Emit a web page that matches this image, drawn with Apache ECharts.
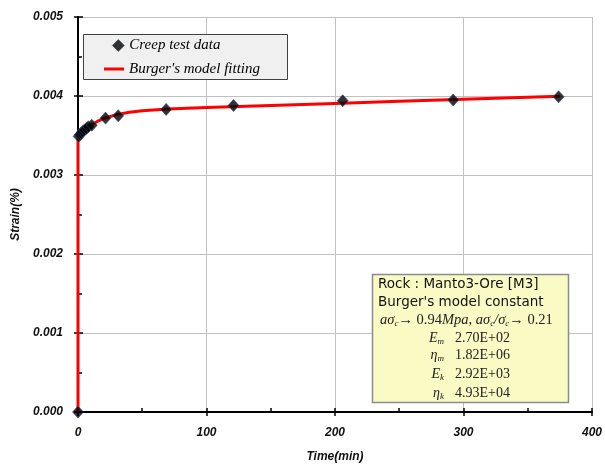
<!DOCTYPE html>
<html>
<head>
<meta charset="utf-8">
<script src="https://cdn.jsdelivr.net/npm/echarts@6/dist/echarts.min.js"></script>
<style>html,body{margin:0;padding:0;background:#fff}#c{width:605px;height:473px}</style>
</head>
<body>
<div id="c"></div>
<script>
// Creep test data (time in min, strain in %)
const testTime = [0, 0.5, 1.5, 2.5, 3.5, 5, 6.5, 8, 10.7, 21.4, 31.3, 68.6, 121, 206, 292, 374];
const testStrain = [0, 0.00349, 0.00351, 0.00353, 0.00355, 0.00357, 0.00359, 0.00361, 0.00363, 0.00372, 0.00375, 0.00383, 0.00388, 0.00394, 0.00395, 0.00399];
// Burger's model fitting curve
const fitTime = [0, 0, 1, 2, 4, 6, 8, 10, 15, 20, 30, 40, 50, 70, 100, 150, 200, 250, 300, 350, 375];
const fitStrain = [0, 0.003481, 0.0035, 0.003518, 0.003551, 0.00358, 0.003607, 0.00363, 0.003678, 0.003715, 0.003764, 0.003794, 0.003812, 0.003834, 0.003854, 0.003881, 0.003906, 0.003932, 0.003958, 0.003984, 0.003997];
const xTicks = [0, 100, 200, 300, 400];
const yTicks = ['0.000', '0.001', '0.002', '0.003', '0.004', '0.005'];
const seriesNames = ['Creep test data', "Burger's model fitting"];
const infoRows = [
  ['E', 'm', '2.70E+02'],
  ['\u03b7', 'm', '1.82E+06'],
  ['E', 'k', '2.92E+03'],
  ['\u03b7', 'k', '4.93E+04']
];

const chart = echarts.init(document.getElementById('c'));
const axisFont = {fontFamily: 'Liberation Sans', fontStyle: 'italic', fontWeight: 'bold', fontSize: 12, color: '#111'};
const gridColor = '#c0c0c0';

const xMain = {
  type: 'value', min: xTicks[0], max: xTicks[xTicks.length - 1], interval: 100,
  name: 'Time(min)', nameLocation: 'middle', nameGap: 39,
  nameTextStyle: Object.assign({}, axisFont, {fontSize: 12}),
  axisLine: {show: true, onZero: false, lineStyle: {color: '#000', width: 2}},
  axisTick: {show: true, inside: false, length: 4, lineStyle: {color: '#000', width: 1.5}},
  axisLabel: Object.assign({}, axisFont, {margin: 15}),
  splitLine: {show: true, lineStyle: {color: gridColor, width: 1}},
  minorTick: {show: false}
};
const xInner = {
  type: 'value', min: xTicks[0], max: xTicks[xTicks.length - 1], interval: 100, position: 'bottom',
  axisLine: {show: false},
  axisTick: {show: true, inside: true, length: 4, lineStyle: {color: '#000', width: 1.5}},
  minorTick: {show: true, splitNumber: 2, length: 4, lineStyle: {color: '#000', width: 1.5}},
  axisLabel: {show: false}, splitLine: {show: false}
};
const yMain = {
  type: 'value', min: 0, max: 0.005, interval: 0.001,
  name: 'Strain(%)', nameLocation: 'middle', nameGap: 56,
  nameTextStyle: Object.assign({}, axisFont, {fontSize: 12}),
  axisLine: {show: true, onZero: false, lineStyle: {color: '#000', width: 2}},
  axisTick: {show: true, inside: false, length: 4, lineStyle: {color: '#000', width: 1.5}},
  axisLabel: Object.assign({}, axisFont, {margin: 15, formatter: (v) => yTicks[Math.round(v / 0.001)]}),
  splitLine: {show: true, lineStyle: {color: gridColor, width: 1}},
  minorTick: {show: false}
};
const yInner = {
  type: 'value', min: 0, max: 0.005, interval: 0.001, position: 'left',
  axisLine: {show: false},
  axisTick: {show: true, inside: true, length: 5, lineStyle: {color: '#000', width: 1.5}},
  minorTick: {show: true, splitNumber: 2, length: 4, lineStyle: {color: '#000', width: 1.5}},
  axisLabel: {show: false}, splitLine: {show: false}
};

const legendText = {fontFamily: 'Liberation Serif', fontStyle: 'italic', fontSize: 15, color: '#000'};
const boxFont = '13.5px "DejaVu Sans"';

const graphics = [
  {type: 'rect', z: 3, shape: {x: 83.5, y: 34.5, width: 204, height: 45}, style: {fill: '#f0f0f0', stroke: '#404040', lineWidth: 1}},
  {type: 'rect', z: 3, shape: {x: 372.5, y: 274.5, width: 196, height: 128}, style: {fill: '#fafac4', stroke: '#8c8c8c', lineWidth: 1.5}},
  {type: 'text', z: 4, x: 378, y: 284, style: {text: 'Rock : Manto3-Ore [M3]', font: boxFont, fill: '#111', verticalAlign: 'middle'}},
  {type: 'text', z: 4, x: 378, y: 302, style: {text: "Burger's model constant", font: boxFont, fill: '#111', verticalAlign: 'middle'}},
  {type: 'text', z: 4, x: 380, y: 320, style: {
    text: '{i|a\u03c3}{s|c}{n|\u2192 0.94}{i|Mpa}{n|, }{i|a\u03c3}{s|c}{i|/\u03c3}{s|c}{n|\u2192 0.21}',
    verticalAlign: 'middle', fill: '#222',
    rich: {
      i: {fontFamily: 'Liberation Serif', fontStyle: 'italic', fontSize: 14.5, lineHeight: 17, fill: '#222'},
      n: {fontFamily: 'Liberation Serif', fontSize: 14.5, lineHeight: 17, fill: '#222'},
      s: {fontFamily: 'Liberation Serif', fontStyle: 'italic', fontSize: 9, lineHeight: 10, verticalAlign: 'bottom', fill: '#222'}
    }
  }}
];
const rowY = [338, 355.5, 374, 393];
infoRows.forEach((r, k) => {
  graphics.push({type: 'text', z: 4, x: 444, y: rowY[k], style: {
    text: '{i|' + r[0] + '}{s|' + r[1] + '}', align: 'right', verticalAlign: 'middle',
    rich: {
      i: {fontFamily: 'Liberation Serif', fontStyle: 'italic', fontSize: 14, lineHeight: 16, fill: '#222'},
      s: {fontFamily: 'Liberation Serif', fontStyle: 'italic', fontSize: 9, lineHeight: 10, verticalAlign: 'bottom', fill: '#222'}
    }
  }});
  graphics.push({type: 'text', z: 4, x: 455, y: rowY[k], style: {text: r[2], font: '14px "Liberation Serif"', fill: '#222', verticalAlign: 'middle'}});
});

chart.setOption({
  animation: false,
  grid: {left: 78, right: 12, top: 17, bottom: 61},
  xAxis: [xMain, xInner],
  yAxis: [yMain, yInner],
  legend: [
    {data: [{name: seriesNames[0], icon: 'diamond', itemStyle: {color: '#000', borderColor: '#1c2f50', borderWidth: 0.6}}], left: 112, top: 38, padding: 0, itemWidth: 12, itemHeight: 12, z: 5, textStyle: legendText},
    {data: [{name: seriesNames[1], icon: 'rect'}], left: 104, top: 61, padding: 0, itemWidth: 20, itemHeight: 3, z: 5, textStyle: Object.assign({}, legendText, {lineHeight: 16})}
  ],
  graphic: graphics,
  series: [
    {
      name: seriesNames[1], type: 'line', xAxisIndex: 0, yAxisIndex: 0,
      data: fitTime.map((t, i) => [t, fitStrain[i]]),
      symbol: 'none', smooth: false, z: 2,
      lineStyle: {color: '#ff0000', width: 3}, itemStyle: {color: '#ff0000'}
    },
    {
      name: seriesNames[0], type: 'scatter', xAxisIndex: 0, yAxisIndex: 0,
      data: testTime.map((t, i) => [t, testStrain[i]]),
      symbol: 'diamond', symbolSize: [11, 12], z: 3,
      itemStyle: {color: '#000000', borderColor: '#2c4a78', borderWidth: 0.8}
    }
  ]
});
</script>
</body>
</html>
